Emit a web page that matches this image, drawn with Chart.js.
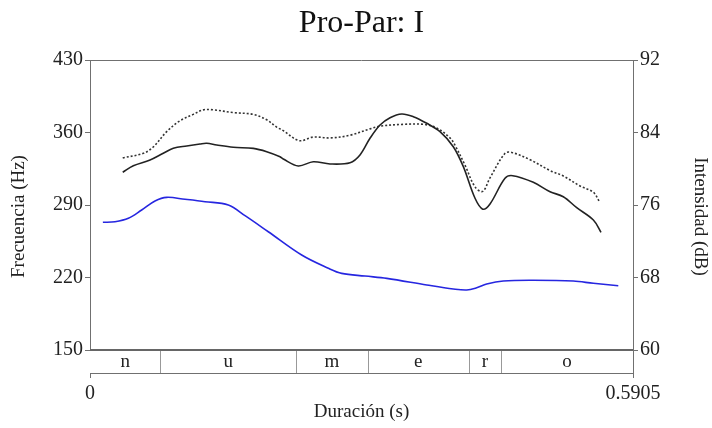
<!DOCTYPE html>
<html>
<head>
<meta charset="utf-8">
<script src="https://cdn.jsdelivr.net/npm/chart.js@4.4.1/dist/chart.umd.min.js"></script>
<style>
  html, body { margin: 0; padding: 0; background: #fff; }
  #wrap { width: 712px; height: 428px; }
</style>
</head>
<body>
<div id="wrap"><canvas id="proPar"></canvas></div>
<script>
// data
const f0Time = [0.0356, 0.0471, 0.0653, 0.0797, 0.0906, 0.1052, 0.1196, 0.1269, 0.1378, 0.1558, 0.1776, 0.1922, 0.2066, 0.2102, 0.2265, 0.2428, 0.2610, 0.2828, 0.2936, 0.3045, 0.3154, 0.3263, 0.3390, 0.3516, 0.3662, 0.3806, 0.3951, 0.4060, 0.4187, 0.4271, 0.4350, 0.4513, 0.4597, 0.4821, 0.5003, 0.5147, 0.5293, 0.5474, 0.5557];
const f0Hz = [321.6, 327.9, 333.4, 339.9, 344.7, 347.0, 348.9, 349.6, 347.9, 345.7, 344.7, 341.5, 336.6, 334.4, 327.7, 331.8, 329.6, 330.8, 338.3, 354.4, 367.2, 374.3, 377.9, 375.3, 368.9, 360.8, 346.3, 327.0, 296.5, 286.0, 291.0, 315.8, 318.3, 311.9, 302.8, 298.0, 287.4, 275.5, 263.6];

const intTime = [0.0356, 0.0580, 0.0688, 0.0834, 0.0979, 0.1123, 0.1232, 0.1341, 0.1558, 0.1776, 0.1922, 0.2030, 0.2102, 0.2276, 0.2428, 0.2610, 0.2828, 0.3045, 0.3154, 0.3407, 0.3625, 0.3770, 0.3915, 0.3969, 0.4078, 0.4187, 0.4271, 0.4350, 0.4513, 0.4586, 0.4785, 0.5003, 0.5147, 0.5329, 0.5474, 0.5539];
const intDb = [81.2, 81.7, 82.4, 84.1, 85.3, 86.0, 86.5, 86.5, 86.2, 86.0, 85.4, 84.6, 84.2, 83.1, 83.5, 83.4, 83.7, 84.4, 84.7, 84.9, 84.9, 84.5, 83.4, 82.6, 80.4, 78.0, 77.5, 79.0, 81.7, 81.8, 81.0, 79.8, 79.2, 78.1, 77.4, 76.4];

const blueTime = [0.0140, 0.0272, 0.0417, 0.0562, 0.0707, 0.0834, 0.1033, 0.1251, 0.1504, 0.1686, 0.1939, 0.2302, 0.2592, 0.2737, 0.2991, 0.3227, 0.3662, 0.3951, 0.4097, 0.4205, 0.4314, 0.4495, 0.4821, 0.5256, 0.5474, 0.5745];
const blueHz = [273.3, 273.9, 277.2, 285.2, 293.9, 297.4, 295.5, 293.2, 290.0, 279.7, 264.2, 241.7, 228.9, 224.0, 221.4, 219.2, 212.8, 208.9, 207.9, 210.1, 213.7, 216.6, 217.3, 216.6, 214.4, 212.1];

const segLabels = ['n', 'u', 'm', 'e', 'r', 'o'];
const segBounds = [0, 0.0765, 0.224, 0.302, 0.412, 0.447, 0.5905];

const hzTicks = [150, 220, 290, 360, 430];
const dbTicks = [60, 68, 76, 84, 92];
const timeTicks = [0, 0.5905];

const serif = "'Liberation Serif', 'Times New Roman', serif";
const axisGray = '#707070';

// band for the segment labels sits under the plot, below 150 Hz / 60 dB
const hzMin = 127.8;
const dbMin = 60 - (150 - hzMin) * (92 - 60) / (430 - 150);

function toPoints(xs, ys) {
    return xs.map((x, i) => ({ x: x, y: ys[i] }));
}

const segmentBand = {
    id: 'segmentBand',
    afterDatasetsDraw(chart) {
        const ctx = chart.ctx;
        const area = chart.chartArea;
        const x = chart.scales.x;
        const yTop = chart.scales.yHz.getPixelForValue(150);
        ctx.save();
        // white band so nothing leaks in
        ctx.fillStyle = '#fff';
        ctx.fillRect(area.left, yTop, area.right - area.left, area.bottom - yTop);
        // top frame line
        ctx.strokeStyle = axisGray;
        ctx.lineWidth = 1;
        ctx.beginPath();
        ctx.moveTo(area.left, area.top + 0.5);
        ctx.lineTo(area.right, area.top + 0.5);
        ctx.stroke();
        // separators
        ctx.strokeStyle = '#999';
        segBounds.slice(1, -1).forEach(b => {
            const px = Math.round(x.getPixelForValue(b)) + 0.5;
            ctx.beginPath();
            ctx.moveTo(px, yTop);
            ctx.lineTo(px, area.bottom);
            ctx.stroke();
        });
        // heavy line on top of the band
        ctx.strokeStyle = '#666';
        ctx.lineWidth = 2;
        ctx.beginPath();
        ctx.moveTo(area.left, yTop);
        ctx.lineTo(area.right, yTop);
        ctx.stroke();
        // labels
        ctx.fillStyle = '#222';
        ctx.font = '19px ' + serif;
        ctx.textAlign = 'center';
        ctx.textBaseline = 'middle';
        segLabels.forEach((lab, i) => {
            const mid = (x.getPixelForValue(segBounds[i]) + x.getPixelForValue(segBounds[i + 1])) / 2;
            ctx.fillText(lab, mid, (yTop + area.bottom) / 2 + 1);
        });
        ctx.restore();
    }
};

const ctx = document.getElementById('proPar').getContext('2d');
new Chart(ctx, {
    type: 'line',
    data: {
        datasets: [
            {
                label: 'F0',
                data: toPoints(f0Time, f0Hz),
                yAxisID: 'yHz',
                borderColor: '#222',
                borderWidth: 1.6,
                pointRadius: 0,
                tension: 0.35
            },
            {
                label: 'Intensidad',
                data: toPoints(intTime, intDb),
                yAxisID: 'yDb',
                borderColor: '#333',
                borderWidth: 1.6,
                borderDash: [2, 2],
                pointRadius: 0,
                tension: 0.35
            },
            {
                label: 'Referencia',
                data: toPoints(blueTime, blueHz),
                yAxisID: 'yHz',
                borderColor: '#2626e0',
                borderWidth: 1.6,
                pointRadius: 0,
                tension: 0.35
            }
        ]
    },
    options: {
        responsive: true,
        maintainAspectRatio: false,
        animation: false,
        layout: { padding: 0 },
        plugins: {
            legend: { display: false },
            tooltip: { enabled: false },
            title: {
                display: true,
                fullSize: false, // centre the title over the plot, not the canvas
                text: 'Pro-Par: I',
                color: '#111',
                font: { family: serif, size: 32, weight: 'normal', lineHeight: 1.2 },
                padding: { top: 4, bottom: 17.6 }
            }
        },
        scales: {
            x: {
                type: 'linear',
                min: 0,
                max: 0.5905,
                afterBuildTicks: s => { s.ticks = timeTicks.map(v => ({ value: v })); },
                afterFit: s => { s.height = 55; },
                ticks: {
                    color: '#222',
                    font: { family: serif, size: 20 },
                    padding: 4,
                    maxRotation: 0,
                    callback: v => String(v)
                },
                grid: { drawOnChartArea: false, tickLength: 5, color: axisGray },
                border: { color: axisGray },
                title: {
                    display: true,
                    text: 'Duración (s)',
                    color: '#222',
                    font: { family: serif, size: 19 },
                    padding: { top: 0, bottom: 5 }
                }
            },
            yHz: {
                position: 'left',
                min: hzMin,
                max: 430,
                afterBuildTicks: s => { s.ticks = hzTicks.map(v => ({ value: v })); },
                afterFit: s => { s.width = 90; },
                ticks: { color: '#222', font: { family: serif, size: 20 }, padding: 2 },
                grid: { drawOnChartArea: false, tickLength: 5, color: axisGray },
                border: { color: axisGray },
                title: {
                    display: true,
                    text: 'Frecuencia (Hz)',
                    color: '#222',
                    font: { family: serif, size: 19 },
                    padding: { top: 8, bottom: 0 }
                }
            },
            yDb: {
                position: 'right',
                min: dbMin,
                max: 92,
                afterBuildTicks: s => { s.ticks = dbTicks.map(v => ({ value: v })); },
                afterFit: s => { s.width = 79; },
                ticks: { color: '#222', font: { family: serif, size: 20 }, padding: 2 },
                grid: { drawOnChartArea: false, tickLength: 5, color: axisGray },
                border: { color: axisGray },
                title: {
                    display: true,
                    text: 'Intensidad (dB)',
                    color: '#222',
                    font: { family: serif, size: 19 },
                    padding: { top: 1, bottom: 1 }
                }
            }
        }
    },
    plugins: [segmentBand]
});
</script>
</body>
</html>
